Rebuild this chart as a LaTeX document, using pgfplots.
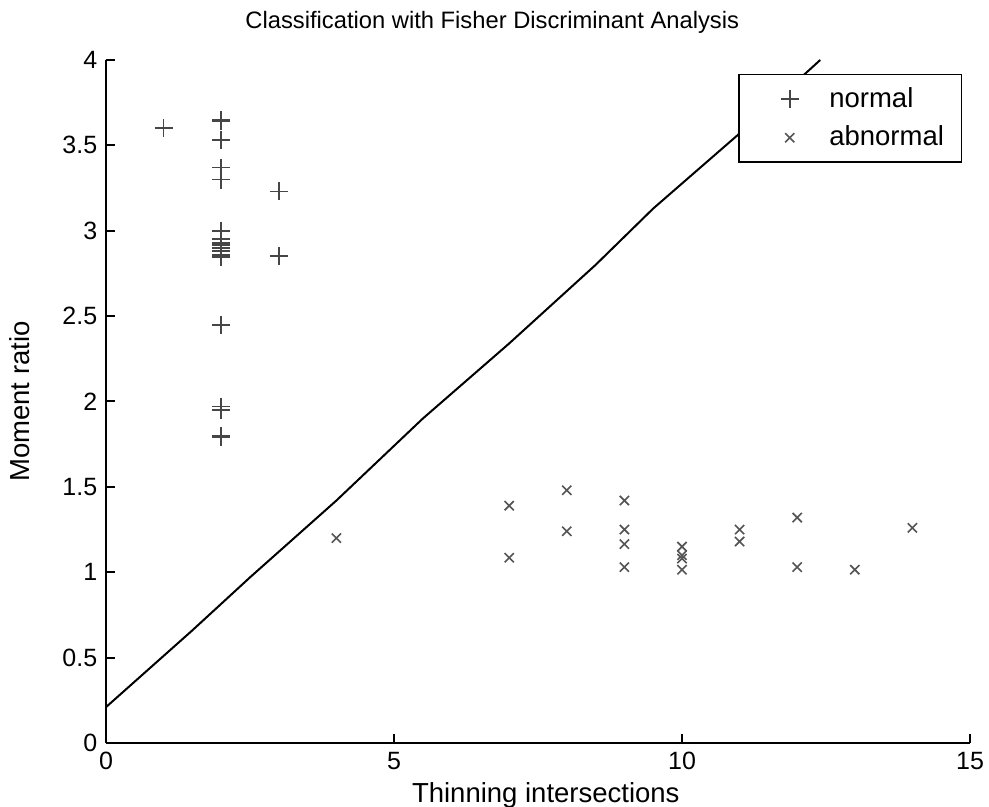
\documentclass[border=0pt]{standalone}
\usepackage{fontspec}
\setmainfont{Liberation Sans}
\usepackage{pgfplots}
\pgfplotsset{compat=1.18}
\definecolor{markgray}{RGB}{70,70,70}
\definecolor{xgray}{RGB}{85,85,85}
\pgfplotsset{
    widelegend/.style={
        legend image code/.code={
            \path (0pt,-1pt) (28.5pt,1pt);
            \draw[mark repeat=2, mark phase=2, ##1]
            plot coordinates {(0pt,0pt) (15pt,0pt) (28.5pt,0pt)};
        }
    }
}
\begin{document}
\begin{tikzpicture}
\useasboundingbox (-42.4pt,-25.6pt) rectangle (353.2pt,297.2pt);
\begin{axis}[
    at={(0pt,0pt)}, anchor=south west,
    width=345.6pt, height=273.2pt, scale only axis,
    xmin=0, xmax=15, ymin=0, ymax=4,
    axis lines=left,
    axis line style={-, line width=0.8pt},
    tick style={line width=0.8pt, black},
    major tick length=3.6pt,
    tick align=inside,
    xtick={0,5,10,15},
    ytick={0,0.5,1,1.5,2,2.5,3,3.5,4},
    /pgf/number format/assume math mode=true,
    tick label style={font=\fontsize{10}{12}\selectfont},
    title={Classification with Fisher Discriminant Analysis},
    title style={at={(axis description cs:0.447,1.033)}, anchor=center,
        font=\fontsize{9.5}{11}\selectfont},
    xlabel={Thinning intersections},
    x label style={at={(axis description cs:0.509,-0.0878)}, anchor=base,
        font=\fontsize{11}{13}\selectfont},
    ylabel={Moment ratio},
    y label style={at={(axis description cs:-0.0995,0.5)}, anchor=center,
        font=\fontsize{11}{13}\selectfont},
    legend style={at={(axis description cs:0.991,0.9795)}, anchor=north east,
        draw=black, line width=0.6pt, font=\fontsize{11}{13}\selectfont,
        inner xsep=5pt, inner ysep=3pt, row sep=2pt},
    legend cell align=left,
]
\addplot[only marks, widelegend, mark=+, mark size=3.6pt, color=markgray, line width=0.7pt]
coordinates {
(1,3.60) (2,3.65) (2,3.64) (2,3.53) (2,3.37) (2,3.30) (2,3.00)
(2,2.95) (2,2.93) (2,2.915) (2,2.90) (2,2.88) (2,2.86) (2,2.845)
(2,2.45) (2,1.97) (2,1.95) (2,1.80) (2,1.79) (3,3.23) (3,2.85)
};
\addlegendentry{normal}
\addplot[only marks, widelegend, mark=x, mark size=2.6pt, color=xgray, line width=0.65pt]
coordinates {
(4,1.20) (7,1.39) (7,1.085) (8,1.48) (8,1.24) (9,1.42) (9,1.25)
(9,1.165) (9,1.03) (10,1.15) (10,1.10) (10,1.08) (10,1.015)
(11,1.25) (11,1.18) (12,1.32) (12,1.03) (13,1.015) (14,1.26)
};
\addlegendentry{abnormal}
\addplot[black, line width=0.8pt, forget plot]
coordinates {
(0,0.21) (0.5,0.36) (1.5,0.66) (2.5,0.97) (4,1.42) (5.5,1.90)
(7,2.34) (8.5,2.80) (9.5,3.13) (11,3.57) (12.4,4.0)
};
\end{axis}
\end{tikzpicture}
\end{document}
